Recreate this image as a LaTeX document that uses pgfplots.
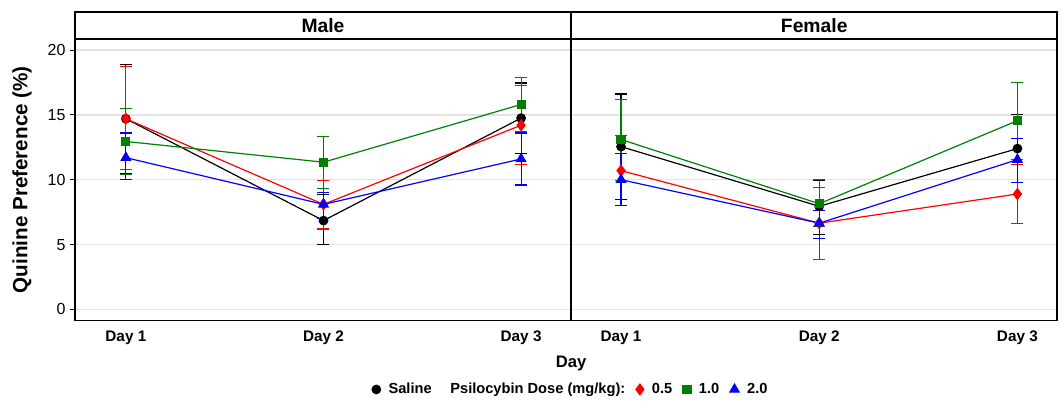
\documentclass[border=0pt]{standalone}
\usepackage{fontspec}
\setmainfont{Liberation Sans}
\usepackage{pgfplots}
\pgfplotsset{compat=1.18}
\definecolor{cgreen}{RGB}{0,128,0}

\pgfplotsset{
  panel/.style={
    scale only axis, height=211.5pt,
    ymin=-0.85, ymax=20.85, ytick={0,5,...,20},
    xtick={1,2,3}, xticklabels={\textbf{Day 1},\textbf{Day 2},\textbf{Day 3}},
    xticklabel style={font=\fontsize{11.5}{12}\selectfont, yshift=-4.5pt},
    yticklabel style={font=\fontsize{12}{13}\selectfont},
    ymajorgrids, grid style={gray!22, line width=1pt},
    axis line style={line width=1.3pt},
    tick style={black, line width=0.6pt},
    xtick style={draw=none},
    ytick align=outside, major tick length=3.5pt,
    /pgf/number format/assume math mode=true,
    error bars/y dir=both, error bars/y explicit,
    error bars/error bar style={line width=0.9pt},
    error bars/error mark options={rotate=90, mark size=4.5pt, line width=0.9pt},
    every axis plot/.append style={line width=0.9pt},
  },
}

\begin{document}
\begin{tikzpicture}
\begin{axis}[panel, name=male, width=372.75pt, xmin=0.742, xmax=3.253]
\addplot[black, mark=*, mark size=3.2pt] coordinates
  {(1,14.7) +=(0,4.2) -=(0,4.25) (2,6.85) +=(0,2.0) -=(0,1.85) (3,14.75) +=(0,2.7) -=(0,2.75)};
\addplot[red, mark=diamond*, mark size=4pt] coordinates
  {(1,14.7) +=(0,4.0) -=(0,3.9) (2,8.1) +=(0,1.85) -=(0,1.9) (3,14.2) +=(0,3.05) -=(0,3.0)};
\addplot[cgreen, mark=square*, mark size=3pt] coordinates
  {(1,12.95) +=(0,2.55) -=(0,2.55) (2,11.35) +=(0,2.0) -=(0,2.0) (3,15.8) +=(0,2.1) -=(0,2.1)};
\addplot[blue, mark=triangle*, mark size=4pt] coordinates
  {(1,11.7) +=(0,1.9) -=(0,1.7) (2,8.1) +=(0,0.9) -=(0,1.1) (3,11.6) +=(0,2.0) -=(0,2.0)};
\end{axis}

\begin{axis}[panel, name=female, width=365.25pt, xmin=0.748, xmax=3.2015,
  at={(male.south east)}, anchor=south west, yticklabels={},
  ytick style={draw=none},
  legend style={at={(0,-0.245)}, anchor=center, draw=none, fill=none,
    font=\bfseries\fontsize{11}{12}\selectfont,
    /tikz/every odd column/.append style={column sep=4pt},
    /tikz/every even column/.append style={column sep=6pt}},
  legend columns=-1, legend cell align=left]
\addplot[black, mark=*, mark size=3.2pt, forget plot] coordinates
  {(1,12.55) +=(0,4.05) -=(0,4.05) (2,7.95) +=(0,2.02) -=(0,2.2) (3,12.4) +=(0,2.65) -=(0,2.6)};
\addplot[red, mark=diamond*, mark size=4pt, forget plot] coordinates
  {(1,10.7) +=(0,2.7) -=(0,2.7) (2,6.65) +=(0,2.75) -=(0,2.8) (3,8.9) +=(0,2.3) -=(0,2.3)};
\addplot[cgreen, mark=square*, mark size=3pt, forget plot] coordinates
  {(1,13.1) +=(0,3.1) -=(0,3.15) (2,8.15) +=(0,1.85) -=(0,1.75) (3,14.55) +=(0,2.95) -=(0,3.0)};
\addplot[blue, mark=triangle*, mark size=4pt, forget plot] coordinates
  {(1,10.0) +=(0,2.0) -=(0,2.0) (2,6.65) +=(0,1.0) -=(0,1.2) (3,11.55) +=(0,1.65) -=(0,1.75)};
\addlegendimage{only marks, black, mark=*, mark size=3.2pt}
\addlegendentry{Saline}
\addlegendimage{empty legend}
\addlegendentry{Psilocybin Dose (mg/kg):}
\addlegendimage{only marks, red, mark=diamond*, mark size=4pt}
\addlegendentry{0.5}
\addlegendimage{only marks, cgreen, mark=square*, mark size=3pt}
\addlegendentry{1.0}
\addlegendimage{only marks, blue, mark=triangle*, mark size=4pt}
\addlegendentry{2.0}
\end{axis}

\draw[line width=1.3pt] (male.north west) rectangle ([yshift=20.25pt]male.north east);
\draw[line width=1.3pt] (female.north west) rectangle ([yshift=20.25pt]female.north east);
\node[font=\bfseries\fontsize{14.5}{15}\selectfont] at ([yshift=10.1pt]male.north) {Male};
\node[font=\bfseries\fontsize{14.5}{15}\selectfont] at ([yshift=10.1pt]female.north) {Female};
\node[font=\bfseries\fontsize{12.5}{13}\selectfont] at ([yshift=-32pt]female.south west) {Day};
\node[font=\bfseries\fontsize{15.5}{16}\selectfont, rotate=90] at ([xshift=-39.75pt]male.west) {Quinine Preference (\%)};
% keep the reference margins
\path ([xshift=-56.25pt, yshift=-60pt]male.south west);
\path ([xshift=1pt, yshift=29.25pt]female.north east);
\end{tikzpicture}
\end{document}
